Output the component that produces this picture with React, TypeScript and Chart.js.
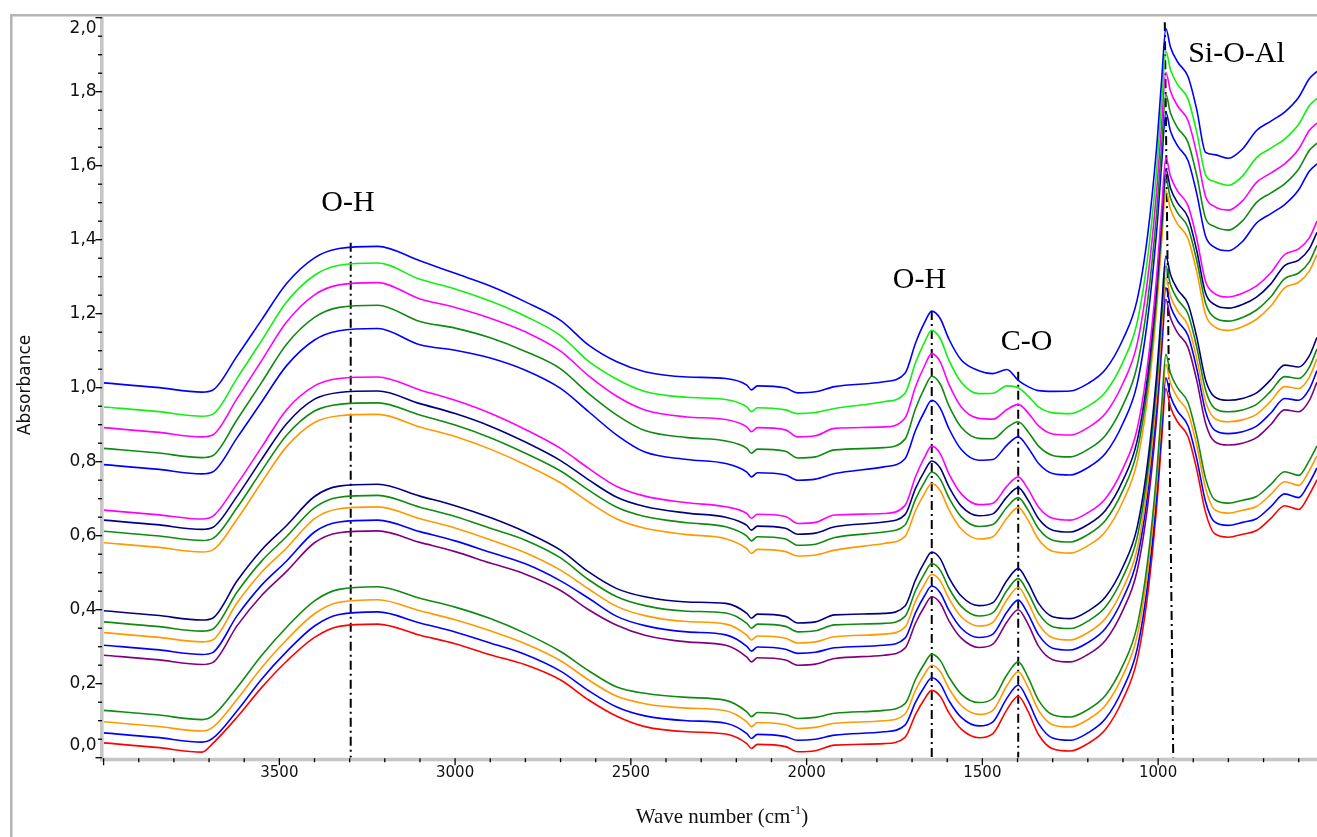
import React, { useEffect, useRef } from 'react';
import { Chart, registerables } from 'chart.js';

Chart.register(...registerables);

// ---- data (wavenumber grid, cm-1) ----
const WAVENUMBERS = [4000, 3850, 3720, 3690, 3620, 3550, 3480, 3400, 3330, 3220, 3100, 3000, 2900, 2800, 2700, 2620, 2540, 2460, 2340, 2230, 2170, 2157, 2140, 2060, 2025, 1975, 1920, 1780, 1720, 1690, 1665, 1644, 1620, 1595, 1560, 1510, 1470, 1430, 1398, 1370, 1340, 1300, 1250, 1200, 1150, 1100, 1060, 1030, 1005, 990, 978, 965, 945, 915, 890, 865, 840, 800, 760, 720, 680, 640, 600, 570, 548];

const A1 = [1.013, 1.001, 0.988, 0.993, 1.086, 1.184, 1.281, 1.351, 1.376, 1.382, 1.343, 1.309, 1.275, 1.232, 1.182, 1.115, 1.070, 1.043, 1.029, 1.025, 1.007, 0.994, 1.005, 0.999, 0.986, 0.989, 1.003, 1.016, 1.039, 1.121, 1.175, 1.207, 1.187, 1.131, 1.075, 1.046, 1.038, 1.049, 1.020, 1.003, 0.992, 0.990, 0.991, 1.011, 1.049, 1.131, 1.236, 1.411, 1.641, 1.831, 1.971, 1.921, 1.881, 1.841, 1.751, 1.636, 1.630, 1.620, 1.645, 1.695, 1.720, 1.745, 1.785, 1.835, 1.855];
const A2 = [0.948, 0.936, 0.923, 0.928, 1.026, 1.128, 1.231, 1.304, 1.331, 1.337, 1.293, 1.267, 1.234, 1.193, 1.141, 1.071, 1.023, 0.990, 0.974, 0.968, 0.948, 0.935, 0.946, 0.940, 0.930, 0.933, 0.944, 0.962, 0.985, 1.068, 1.122, 1.155, 1.133, 1.074, 1.015, 0.984, 0.985, 1.005, 1.000, 0.978, 0.948, 0.932, 0.930, 0.950, 0.988, 1.070, 1.175, 1.350, 1.580, 1.770, 1.910, 1.860, 1.820, 1.780, 1.690, 1.575, 1.557, 1.547, 1.572, 1.622, 1.647, 1.672, 1.712, 1.762, 1.782];
const A3 = [0.892, 0.880, 0.867, 0.872, 0.971, 1.074, 1.177, 1.251, 1.278, 1.284, 1.240, 1.217, 1.188, 1.151, 1.099, 1.032, 0.977, 0.940, 0.921, 0.914, 0.894, 0.881, 0.892, 0.886, 0.867, 0.870, 0.890, 0.894, 0.918, 1.003, 1.058, 1.092, 1.070, 1.009, 0.948, 0.917, 0.915, 0.941, 0.955, 0.932, 0.897, 0.875, 0.872, 0.892, 0.930, 1.012, 1.117, 1.292, 1.522, 1.712, 1.852, 1.802, 1.762, 1.722, 1.632, 1.517, 1.490, 1.480, 1.505, 1.555, 1.580, 1.605, 1.645, 1.695, 1.715];
const A4 = [0.836, 0.824, 0.811, 0.816, 0.914, 1.015, 1.117, 1.190, 1.217, 1.223, 1.179, 1.161, 1.135, 1.098, 1.051, 0.984, 0.926, 0.884, 0.865, 0.856, 0.836, 0.823, 0.834, 0.828, 0.810, 0.813, 0.832, 0.838, 0.861, 0.944, 0.998, 1.031, 1.010, 0.951, 0.893, 0.863, 0.862, 0.892, 0.908, 0.881, 0.842, 0.817, 0.813, 0.833, 0.871, 0.953, 1.058, 1.233, 1.463, 1.653, 1.793, 1.743, 1.703, 1.663, 1.573, 1.458, 1.436, 1.426, 1.451, 1.501, 1.526, 1.551, 1.591, 1.641, 1.661];
const A5 = [0.792, 0.780, 0.767, 0.772, 0.865, 0.962, 1.059, 1.129, 1.154, 1.160, 1.116, 1.101, 1.080, 1.047, 0.998, 0.935, 0.872, 0.826, 0.806, 0.795, 0.772, 0.759, 0.770, 0.764, 0.750, 0.753, 0.768, 0.786, 0.808, 0.885, 0.935, 0.966, 0.945, 0.889, 0.833, 0.804, 0.806, 0.845, 0.867, 0.838, 0.795, 0.768, 0.764, 0.784, 0.822, 0.904, 1.009, 1.184, 1.414, 1.604, 1.744, 1.694, 1.654, 1.614, 1.524, 1.409, 1.380, 1.370, 1.395, 1.445, 1.470, 1.495, 1.535, 1.585, 1.605];

const B1 = [0.669, 0.657, 0.645, 0.652, 0.740, 0.840, 0.940, 1.005, 1.025, 1.029, 0.994, 0.966, 0.931, 0.887, 0.836, 0.782, 0.733, 0.707, 0.689, 0.678, 0.660, 0.647, 0.658, 0.652, 0.633, 0.636, 0.656, 0.660, 0.682, 0.760, 0.811, 0.842, 0.822, 0.767, 0.713, 0.684, 0.688, 0.734, 0.759, 0.726, 0.677, 0.647, 0.642, 0.662, 0.700, 0.782, 0.887, 1.062, 1.292, 1.482, 1.622, 1.572, 1.532, 1.492, 1.402, 1.287, 1.255, 1.245, 1.255, 1.275, 1.310, 1.360, 1.375, 1.405, 1.450];
const B2 = [0.642, 0.630, 0.617, 0.622, 0.707, 0.807, 0.902, 0.969, 0.987, 0.991, 0.957, 0.930, 0.896, 0.853, 0.803, 0.751, 0.704, 0.679, 0.661, 0.650, 0.628, 0.615, 0.626, 0.620, 0.604, 0.607, 0.624, 0.637, 0.657, 0.728, 0.774, 0.802, 0.783, 0.732, 0.680, 0.654, 0.659, 0.705, 0.730, 0.696, 0.646, 0.615, 0.610, 0.630, 0.668, 0.750, 0.855, 1.030, 1.260, 1.450, 1.590, 1.540, 1.500, 1.460, 1.370, 1.255, 1.225, 1.215, 1.225, 1.245, 1.280, 1.330, 1.345, 1.375, 1.420];
const B3 = [0.612, 0.600, 0.587, 0.592, 0.676, 0.776, 0.871, 0.937, 0.955, 0.959, 0.926, 0.899, 0.865, 0.823, 0.775, 0.723, 0.677, 0.652, 0.635, 0.624, 0.599, 0.586, 0.597, 0.591, 0.574, 0.577, 0.595, 0.610, 0.629, 0.699, 0.744, 0.772, 0.753, 0.702, 0.651, 0.625, 0.630, 0.677, 0.703, 0.669, 0.619, 0.588, 0.583, 0.603, 0.641, 0.723, 0.828, 1.003, 1.233, 1.423, 1.563, 1.513, 1.473, 1.433, 1.343, 1.228, 1.190, 1.180, 1.190, 1.210, 1.245, 1.295, 1.310, 1.340, 1.385];
const B4 = [0.581, 0.569, 0.556, 0.561, 0.645, 0.745, 0.840, 0.906, 0.924, 0.928, 0.894, 0.868, 0.834, 0.792, 0.743, 0.691, 0.645, 0.620, 0.603, 0.592, 0.565, 0.552, 0.563, 0.557, 0.545, 0.548, 0.561, 0.579, 0.598, 0.668, 0.713, 0.741, 0.722, 0.670, 0.618, 0.591, 0.597, 0.648, 0.676, 0.642, 0.590, 0.558, 0.553, 0.573, 0.611, 0.693, 0.798, 0.973, 1.203, 1.393, 1.533, 1.483, 1.443, 1.403, 1.313, 1.198, 1.165, 1.155, 1.165, 1.185, 1.220, 1.270, 1.285, 1.315, 1.360];

const C1 = [0.397, 0.385, 0.372, 0.377, 0.478, 0.562, 0.627, 0.706, 0.734, 0.739, 0.707, 0.681, 0.649, 0.610, 0.561, 0.502, 0.457, 0.435, 0.421, 0.417, 0.390, 0.377, 0.388, 0.382, 0.364, 0.367, 0.386, 0.390, 0.410, 0.481, 0.528, 0.556, 0.538, 0.487, 0.437, 0.411, 0.419, 0.479, 0.511, 0.473, 0.417, 0.381, 0.376, 0.396, 0.434, 0.516, 0.621, 0.796, 1.026, 1.216, 1.356, 1.306, 1.266, 1.226, 1.136, 1.021, 0.976, 0.966, 0.971, 0.986, 1.021, 1.061, 1.056, 1.086, 1.136];
const C2 = [0.367, 0.355, 0.342, 0.347, 0.448, 0.532, 0.597, 0.676, 0.704, 0.709, 0.677, 0.652, 0.620, 0.588, 0.540, 0.481, 0.435, 0.411, 0.396, 0.391, 0.363, 0.350, 0.361, 0.355, 0.340, 0.343, 0.359, 0.363, 0.382, 0.452, 0.497, 0.525, 0.507, 0.458, 0.409, 0.383, 0.392, 0.452, 0.484, 0.446, 0.390, 0.354, 0.349, 0.369, 0.407, 0.489, 0.594, 0.769, 0.999, 1.189, 1.329, 1.279, 1.239, 1.199, 1.109, 0.994, 0.945, 0.935, 0.940, 0.955, 0.990, 1.030, 1.025, 1.055, 1.105];
const C3 = [0.338, 0.326, 0.313, 0.318, 0.419, 0.502, 0.566, 0.646, 0.673, 0.678, 0.646, 0.621, 0.589, 0.554, 0.507, 0.456, 0.409, 0.384, 0.368, 0.361, 0.331, 0.318, 0.329, 0.323, 0.310, 0.313, 0.327, 0.334, 0.353, 0.423, 0.468, 0.496, 0.478, 0.430, 0.381, 0.356, 0.366, 0.427, 0.460, 0.420, 0.361, 0.324, 0.318, 0.338, 0.376, 0.458, 0.563, 0.738, 0.968, 1.158, 1.298, 1.248, 1.208, 1.168, 1.078, 0.963, 0.918, 0.908, 0.913, 0.928, 0.963, 1.003, 0.998, 1.028, 1.078];
const C4 = [0.304, 0.292, 0.279, 0.284, 0.384, 0.467, 0.531, 0.610, 0.637, 0.642, 0.611, 0.586, 0.555, 0.524, 0.478, 0.431, 0.382, 0.357, 0.340, 0.332, 0.301, 0.288, 0.299, 0.293, 0.282, 0.285, 0.297, 0.304, 0.323, 0.392, 0.437, 0.464, 0.446, 0.398, 0.350, 0.325, 0.334, 0.394, 0.426, 0.388, 0.332, 0.296, 0.291, 0.311, 0.349, 0.431, 0.536, 0.711, 0.941, 1.131, 1.271, 1.221, 1.181, 1.141, 1.051, 0.936, 0.886, 0.876, 0.881, 0.896, 0.931, 0.971, 0.966, 0.996, 1.046];
const C5 = [0.277, 0.265, 0.252, 0.257, 0.357, 0.439, 0.503, 0.581, 0.608, 0.613, 0.582, 0.557, 0.526, 0.496, 0.452, 0.400, 0.358, 0.331, 0.313, 0.304, 0.272, 0.259, 0.270, 0.264, 0.250, 0.253, 0.268, 0.277, 0.296, 0.364, 0.408, 0.435, 0.418, 0.370, 0.323, 0.298, 0.307, 0.367, 0.400, 0.361, 0.301, 0.265, 0.259, 0.279, 0.317, 0.399, 0.504, 0.679, 0.909, 1.099, 1.239, 1.189, 1.149, 1.109, 1.019, 0.904, 0.855, 0.845, 0.850, 0.865, 0.900, 0.940, 0.935, 0.965, 1.015];

const D1 = [0.128, 0.116, 0.103, 0.113, 0.190, 0.277, 0.352, 0.424, 0.455, 0.462, 0.431, 0.407, 0.376, 0.336, 0.287, 0.235, 0.191, 0.174, 0.163, 0.155, 0.124, 0.111, 0.122, 0.116, 0.106, 0.109, 0.120, 0.128, 0.146, 0.212, 0.254, 0.280, 0.263, 0.218, 0.172, 0.149, 0.160, 0.224, 0.259, 0.217, 0.155, 0.116, 0.110, 0.130, 0.168, 0.250, 0.355, 0.530, 0.760, 0.950, 1.090, 1.040, 1.000, 0.960, 0.870, 0.755, 0.698, 0.688, 0.696, 0.706, 0.738, 0.773, 0.763, 0.803, 0.843];
const D2 = [0.097, 0.085, 0.072, 0.082, 0.158, 0.244, 0.318, 0.389, 0.420, 0.427, 0.397, 0.373, 0.343, 0.308, 0.262, 0.210, 0.166, 0.146, 0.134, 0.127, 0.097, 0.084, 0.095, 0.089, 0.079, 0.082, 0.093, 0.100, 0.118, 0.183, 0.225, 0.250, 0.233, 0.187, 0.141, 0.117, 0.128, 0.195, 0.232, 0.190, 0.128, 0.089, 0.083, 0.103, 0.141, 0.223, 0.328, 0.503, 0.733, 0.923, 1.063, 1.013, 0.973, 0.933, 0.843, 0.728, 0.671, 0.661, 0.669, 0.679, 0.711, 0.746, 0.736, 0.776, 0.816];
const D3 = [0.067, 0.055, 0.042, 0.052, 0.127, 0.213, 0.286, 0.356, 0.387, 0.394, 0.364, 0.340, 0.310, 0.279, 0.234, 0.181, 0.137, 0.113, 0.100, 0.093, 0.065, 0.052, 0.063, 0.057, 0.047, 0.050, 0.061, 0.070, 0.088, 0.150, 0.191, 0.216, 0.200, 0.154, 0.109, 0.086, 0.097, 0.161, 0.196, 0.154, 0.092, 0.053, 0.047, 0.067, 0.105, 0.187, 0.292, 0.467, 0.697, 0.887, 1.027, 0.977, 0.937, 0.897, 0.807, 0.692, 0.638, 0.628, 0.636, 0.646, 0.678, 0.713, 0.703, 0.743, 0.783];
const D4 = [0.040, 0.028, 0.015, 0.038, 0.110, 0.190, 0.260, 0.325, 0.355, 0.361, 0.331, 0.308, 0.278, 0.251, 0.210, 0.156, 0.112, 0.084, 0.070, 0.064, 0.038, 0.025, 0.036, 0.030, 0.016, 0.019, 0.034, 0.038, 0.055, 0.117, 0.158, 0.182, 0.166, 0.121, 0.077, 0.054, 0.065, 0.130, 0.166, 0.125, 0.062, 0.024, 0.018, 0.038, 0.076, 0.158, 0.263, 0.438, 0.668, 0.858, 0.998, 0.948, 0.908, 0.868, 0.778, 0.663, 0.606, 0.596, 0.604, 0.614, 0.646, 0.681, 0.671, 0.711, 0.751];

// peak marker lines (wavenumber, absorbance) : top -> bottom
const MARKER_OH_STRETCH = [[3297, 1.392], [3297, 0]];
const MARKER_OH_BEND = [[1644, 1.207], [1644, 0]];
const MARKER_CO = [[1398, 1.043], [1398, 0]];
const MARKER_SIOAL = [[981, 1.988], [957, 0]];

// annotation labels (text, wavenumber, absorbance at baseline)
const ANNOTATION_TEXT = ['O-H', 'O-H', 'C-O', 'Si-O-Al'];
const ANNOTATION_X = [3305, 1679, 1374, 777];
const ANNOTATION_Y = [1.478, 1.269, 1.102, 1.881];

const X_MIN = 548;
const X_MAX = 4000;
const Y_MIN = 0;
const Y_MAX = 2;
const X_MINOR_STEP = 100;
const X_LABEL_STEP = 500;
const Y_MINOR_STEP = 0.05;
const Y_LABEL_STEP = 0.2;

const BLUE = '#0000ff';
const LIME = '#11f011';
const MAGENTA = '#ff00ff';
const GREEN = '#108a10';
const NAVY = '#000080';
const ORANGE = '#ff9900';
const PURPLE = '#800080';
const RED = '#ff0000';

const SERIES = [
  { name: 'A1', color: BLUE, values: A1 },
  { name: 'A2', color: LIME, values: A2 },
  { name: 'A3', color: MAGENTA, values: A3 },
  { name: 'A4', color: GREEN, values: A4 },
  { name: 'A5', color: BLUE, values: A5 },
  { name: 'B1', color: MAGENTA, values: B1 },
  { name: 'B2', color: NAVY, values: B2 },
  { name: 'B3', color: GREEN, values: B3 },
  { name: 'B4', color: ORANGE, values: B4 },
  { name: 'C1', color: NAVY, values: C1 },
  { name: 'C2', color: GREEN, values: C2 },
  { name: 'C3', color: ORANGE, values: C3 },
  { name: 'C4', color: BLUE, values: C4 },
  { name: 'C5', color: PURPLE, values: C5 },
  { name: 'D1', color: GREEN, values: D1 },
  { name: 'D2', color: ORANGE, values: D2 },
  { name: 'D3', color: BLUE, values: D3 },
  { name: 'D4', color: RED, values: D4 },
];

const SANS = "'DejaVu Sans', Verdana, sans-serif";
const SERIF = "'Liberation Serif', 'Times New Roman', serif";

const isMultiple = (v: number, step: number) => Math.abs(v / step - Math.round(v / step)) < 1e-6;
const fmtY = (v: number) => v.toFixed(1).replace('.', ',');

const decorPlugin = {
  id: 'decor',
  afterDraw(chart: any) {
    const { ctx, chartArea: ca, scales } = chart;
    const xs = scales.x;
    const ys = scales.y;
    ctx.save();

    // outer frame
    ctx.strokeStyle = '#b4b4b4';
    ctx.lineWidth = 2.5;
    ctx.beginPath();
    ctx.moveTo(11.3, chart.height);
    ctx.lineTo(11.3, 15.3);
    ctx.lineTo(chart.width, 15.3);
    ctx.stroke();

    // axis bars
    const bar = 3.6;
    ctx.fillStyle = '#c6c6c6';
    ctx.fillRect(ca.left - bar, ca.top - 1, bar, ca.bottom - ca.top + 1 + bar);
    ctx.fillRect(ca.left - bar, ca.bottom, ca.right - ca.left + bar, bar);

    // tick marks
    ctx.strokeStyle = '#000';
    ctx.lineWidth = 1.3;
    ys.ticks.forEach((t: any) => {
      const py = ys.getPixelForValue(t.value);
      const major = isMultiple(t.value, Y_LABEL_STEP);
      ctx.beginPath();
      ctx.moveTo(ca.left - bar - (major ? 4.5 : 2), py);
      ctx.lineTo(ca.left - 1.5, py);
      ctx.stroke();
    });
    xs.ticks.forEach((t: any) => {
      const px = xs.getPixelForValue(t.value);
      const major = isMultiple(t.value, X_LABEL_STEP);
      ctx.beginPath();
      ctx.moveTo(px, ca.bottom + 0.5);
      ctx.lineTo(px, ca.bottom + (major ? 7.5 : 4.5));
      ctx.stroke();
    });

    // end labels of the y axis (shifted inside like the original)
    ctx.fillStyle = '#111';
    ctx.font = `17px ${SANS}`;
    ctx.textAlign = 'right';
    ctx.textBaseline = 'middle';
    ctx.fillText(fmtY(Y_MAX), ca.left - 7, ys.getPixelForValue(Y_MAX) + 10.6);
    ctx.fillText(fmtY(Y_MIN), ca.left - 7, ys.getPixelForValue(Y_MIN) - 12.5);

    // y title
    ctx.save();
    ctx.translate(26, 385);
    ctx.rotate(-Math.PI / 2);
    ctx.textAlign = 'center';
    ctx.textBaseline = 'middle';
    ctx.font = `17px ${SANS}`;
    ctx.fillText('Absorbance', 0, 0);
    ctx.restore();

    // x title with superscript
    ctx.fillStyle = '#111';
    ctx.textBaseline = 'alphabetic';
    ctx.textAlign = 'left';
    const mainFont = `21px ${SERIF}`;
    const supFont = `13px ${SERIF}`;
    const p1 = 'Wave number (cm';
    const p2 = '-1';
    const p3 = ')';
    ctx.font = mainFont;
    const w1 = ctx.measureText(p1).width;
    const w3 = ctx.measureText(p3).width;
    ctx.font = supFont;
    const w2 = ctx.measureText(p2).width;
    const total = w1 + w2 + w3;
    const cx = 722;
    const base = 823;
    const x0 = cx - total / 2;
    ctx.font = mainFont;
    ctx.fillText(p1, x0, base);
    ctx.font = supFont;
    ctx.fillText(p2, x0 + w1, base - 9);
    ctx.font = mainFont;
    ctx.fillText(p3, x0 + w1 + w2, base);

    // annotations
    ctx.font = `30px ${SERIF}`;
    ctx.textAlign = 'center';
    ctx.fillStyle = '#000';
    ANNOTATION_TEXT.forEach((txt, i) => {
      ctx.fillText(txt, xs.getPixelForValue(ANNOTATION_X[i]), ys.getPixelForValue(ANNOTATION_Y[i]));
    });

    ctx.restore();
  },
};

export default function App() {
  const canvasRef = useRef<HTMLCanvasElement | null>(null);

  useEffect(() => {
    if (!canvasRef.current) return;
    const spectra = SERIES.map((s) => ({
      label: s.name,
      data: WAVENUMBERS.map((w, i) => ({ x: w, y: s.values[i] })),
      borderColor: s.color,
      backgroundColor: s.color,
      borderWidth: 1.6,
      pointRadius: 0,
      fill: false,
      cubicInterpolationMode: 'monotone' as const,
    }));
    const markers = [MARKER_OH_STRETCH, MARKER_OH_BEND, MARKER_CO, MARKER_SIOAL].map((m, i) => ({
      label: 'marker' + i,
      data: m.map((p) => ({ x: p[0], y: p[1] })),
      borderColor: '#000',
      borderWidth: 2,
      borderDash: [9, 4, 2, 4],
      pointRadius: 0,
      fill: false,
      tension: 0,
    }));

    const chart = new Chart(canvasRef.current, {
      type: 'line',
      data: { datasets: [...spectra, ...markers] as any },
      options: {
        animation: false,
        responsive: false,
        maintainAspectRatio: false,
        layout: { padding: { top: 17.7, left: 0, right: 0, bottom: 0 } },
        plugins: { legend: { display: false }, tooltip: { enabled: false }, title: { display: false } },
        scales: {
          x: {
            type: 'linear',
            reverse: true,
            min: X_MIN,
            max: X_MAX,
            grid: { display: false, drawTicks: false },
            border: { display: false },
            ticks: {
              stepSize: X_MINOR_STEP,
              includeBounds: false,
              autoSkip: false,
              maxRotation: 0,
              padding: 6,
              color: '#111',
              font: { family: SANS, size: 15 },
              callback: (v: any) => {
                const n = Number(v);
                return isMultiple(n, X_LABEL_STEP) && n < X_MAX ? String(n) : '';
              },
            },
            afterFit: (scale: any) => {
              scale.height = 837 - 757.7;
            },
          },
          y: {
            type: 'linear',
            min: Y_MIN,
            max: Y_MAX,
            grid: { display: false, drawTicks: false },
            border: { display: false },
            ticks: {
              stepSize: Y_MINOR_STEP,
              autoSkip: false,
              padding: 7,
              color: '#111',
              font: { family: SANS, size: 17 },
              callback: (v: any) => {
                const n = Number(v);
                if (!isMultiple(n, Y_LABEL_STEP)) return '';
                if (n <= Y_MIN + 1e-9 || n >= Y_MAX - 1e-9) return '';
                return fmtY(n);
              },
            },
            afterFit: (scale: any) => {
              scale.width = 103.6;
            },
          },
        },
      },
      plugins: [decorPlugin],
    });
    return () => chart.destroy();
  }, []);

  return (
    <div style={{ position: 'absolute', left: 0, top: 0, width: 1317, height: 837, background: '#fff' }}>
      <canvas ref={canvasRef} width={1317} height={837} style={{ display: 'block' }} />
    </div>
  );
}
